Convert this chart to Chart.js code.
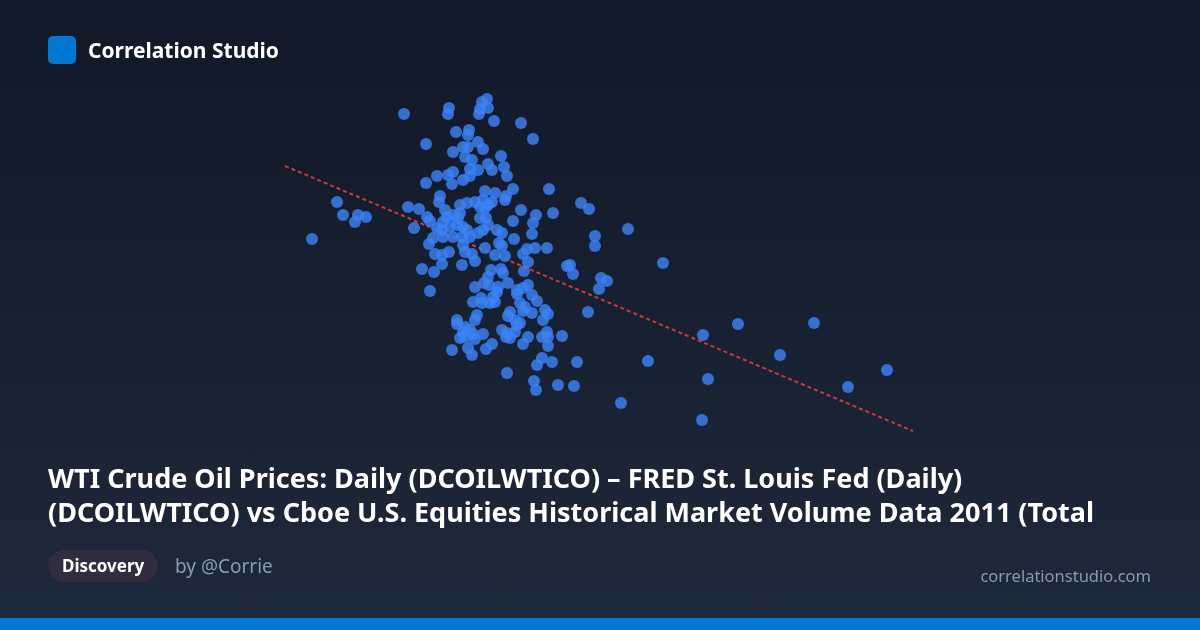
<!DOCTYPE html>
<html>
<head>
<meta charset="utf-8">
<script src="https://cdn.jsdelivr.net/npm/chart.js@4.4.1/dist/chart.umd.min.js"></script>
<style>
  html, body { margin: 0; padding: 0; }
  body {
    width: 1200px; height: 630px; overflow: hidden; position: relative;
    background: linear-gradient(180deg, #111827 0%, #1e293b 100%);
    font-family: "Noto Sans", "Open Sans", sans-serif;
  }
  #chart { position: absolute; left: 0; top: 0; }
  .brand { position: absolute; left: 48px; top: 36px; display: flex; align-items: center; }
  .logo { width: 28px; height: 28px; border-radius: 5px; background: #0078d4; }
  .brand span { margin-left: 12px; color: #fff; font-weight: 700; font-size: 21px; }
  .title { position: absolute; left: 48px; top: 461px; color: #fff; font-weight: 700; font-size: 27px; line-height: 34px; }
  .title div { white-space: nowrap; }
  .badge { position: absolute; left: 48px; top: 550px; height: 32px; padding: 0 14px; border-radius: 16px;
    background: #322d3e; color: #fff; font-weight: 700; font-size: 17px; line-height: 32px; }
  .by { position: absolute; left: 175px; top: 553px; color: #8b9ab0; font-size: 19px; line-height: 26px; }
  .site { position: absolute; right: 49px; top: 563px; color: #8b98ab; font-size: 16.5px; line-height: 26px; }
  .bar { position: absolute; left: 0; bottom: 0; width: 1200px; height: 12px; background: #0078d4; }
</style>
</head>
<body>
<canvas id="chart" width="1200" height="630"></canvas>
<div class="brand"><div class="logo"></div><span>Correlation Studio</span></div>
<div class="title">
  <div>WTI Crude Oil Prices: Daily (DCOILWTICO) – FRED St. Louis Fed (Daily)</div>
  <div>(DCOILWTICO) vs Cboe U.S. Equities Historical Market Volume Data 2011 (Total</div>
</div>
<div class="badge">Discovery</div>
<div class="by">by @Corrie</div>
<div class="site">correlationstudio.com</div>
<div class="bar"></div>
<script>
'use strict';

// values (no axes shown, so units are arbitrary)
let oilValues = [
  40.4, 44.9, 44.8, 48.2, 48.7, 48.0, 48.8, 47.9, 49.4, 52.1,
  53.3, 45.6, 46.9, 46.8, 42.6, 47.8, 48.3, 45.3, 46.3, 46.8,
  46.5, 47.2, 50.1, 48.8, 49.2, 50.4, 50.7, 47.0, 47.8, 43.7,
  44.8, 45.3, 46.3, 47.0, 42.6, 45.2, 48.5, 49.5, 51.3, 54.9,
  50.6, 50.5, 44.0, 43.9, 33.7, 34.3, 35.8, 36.6, 35.5, 31.2,
  40.8, 41.9, 41.4, 42.7, 43.0, 44.5, 44.7, 45.3, 46.0, 45.8,
  46.0, 46.7, 47.5, 48.0, 48.5, 48.3, 48.8, 49.2, 44.3, 43.7,
  44.2, 45.0, 45.7, 46.3, 46.7, 43.3, 44.3, 45.3, 46.2, 47.0,
  47.8, 48.3, 48.8, 48.0, 48.6, 49.7, 50.2, 42.9, 52.1, 51.3,
  53.6, 53.3, 55.3, 58.1, 58.9, 53.2, 51.4, 59.5, 59.5, 62.8,
  54.7, 53.5, 52.7, 52.3, 49.9, 50.2, 49.5, 50.5, 48.5, 46.3,
  43.5, 44.2, 44.9, 46.5, 47.2, 47.5, 46.2, 44.2, 42.2, 43.4,
  43.0, 52.8, 52.4, 56.7, 57.0, 57.3, 60.1, 60.7, 59.9, 66.3,
  49.1, 50.1, 50.3, 48.8, 48.4, 48.9, 50.8, 51.7, 51.7, 52.8,
  52.3, 47.5, 49.8, 49.7, 49.3, 53.2, 53.7, 47.3, 48.2, 49.0,
  49.5, 48.1, 52.0, 52.5, 52.3, 51.0, 50.8, 51.5, 51.7, 53.2,
  54.5, 54.8, 54.3, 47.7, 47.5, 45.7, 45.7, 46.5, 47.0, 46.3,
  47.3, 46.0, 46.5, 47.5, 48.3, 50.2, 50.7, 50.6, 51.0, 51.5,
  52.8, 52.3, 54.7, 54.8, 54.2, 54.8, 56.2, 45.2, 46.8, 47.2,
  48.6, 49.2, 54.2, 53.7, 55.2, 57.7, 50.7, 53.4, 53.6, 55.8,
  57.4, 58.8, 52.0, 64.8, 62.1, 70.3, 73.8, 81.4, 78.0, 70.8,
  84.8, 88.7, 70.2
];

let volumeValues = [
  38.6, 39.2, 38.6, 39.8, 40.1, 39.1, 39.2, 38.6, 37.9, 37.7,
  36.1, 36.8, 37.0, 36.5, 35.6, 35.8, 35.1, 34.8, 35.3, 35.3,
  34.3, 34.0, 34.4, 33.6, 33.0, 33.3, 32.4, 33.1, 33.0, 32.4,
  32.5, 32.8, 32.0, 32.4, 31.7, 31.6, 30.9, 30.7, 31.1, 31.1,
  30.4, 30.0, 30.4, 29.8, 29.8, 28.5, 28.5, 28.3, 27.8, 26.1,
  29.3, 29.1, 27.2, 28.3, 27.9, 29.0, 28.3, 28.5, 28.7, 28.2,
  29.5, 29.7, 29.8, 29.3, 29.2, 30.0, 29.5, 29.8, 27.8, 27.2,
  27.0, 27.3, 27.5, 27.3, 27.0, 26.2, 26.3, 26.3, 26.3, 26.3,
  26.7, 27.0, 27.5, 28.2, 28.2, 27.0, 26.7, 25.6, 29.0, 27.9,
  28.5, 27.7, 28.7, 29.7, 29.1, 26.6, 26.1, 26.4, 25.4, 27.1,
  25.2, 25.2, 25.1, 24.6, 25.7, 25.4, 24.5, 24.4, 25.2, 25.5,
  24.6, 24.5, 24.8, 24.8, 24.6, 23.9, 23.5, 23.6, 23.1, 22.8,
  20.9, 23.8, 22.9, 23.4, 23.5, 22.6, 22.2, 21.9, 21.1, 23.7,
  23.0, 23.1, 22.7, 22.3, 21.7, 21.5, 21.7, 21.0, 20.6, 21.5,
  21.2, 21.3, 21.3, 20.8, 20.3, 20.5, 19.9, 19.8, 19.7, 19.7,
  19.8, 20.2, 19.7, 19.3, 18.9, 18.8, 18.4, 18.0, 17.5, 18.7,
  19.0, 18.6, 18.0, 18.5, 18.0, 18.0, 17.6, 17.3, 17.0, 16.8,
  16.6, 16.2, 16.3, 16.1, 16.6, 17.0, 16.7, 16.3, 16.2, 16.8,
  16.3, 15.6, 16.8, 16.3, 16.3, 15.4, 16.4, 15.0, 15.2, 14.5,
  15.1, 15.6, 14.2, 13.5, 13.8, 13.8, 12.7, 11.9, 11.0, 11.5,
  11.4, 18.8, 17.7, 13.9, 9.7, 16.5, 17.6, 17.7, 14.5, 12.1,
  11.3, 13.0, 8.0
];

// dashed trend line ends
let trendX = [28.5, 91.3];
let trendY = [33.4, 6.9];

let points = [];
for (let i = 0; i < oilValues.length; i++) {
  points.push({ x: oilValues[i], y: volumeValues[i] });
}

let trendPoints = [];
for (let i = 0; i < trendX.length; i++) {
  trendPoints.push({ x: trendX[i], y: trendY[i] });
}

let ctx = document.getElementById('chart').getContext('2d');
let myChart = new Chart(ctx, {
  type: 'scatter',
  data: {
    datasets: [{
      label: 'Trend',
      type: 'line',
      data: trendPoints,
      borderColor: 'rgba(225, 60, 60, 0.9)',
      borderWidth: 2,
      borderDash: [4, 3],
      pointRadius: 0,
      fill: false,
      order: 2
    },
    {
      label: 'Days',
      data: points,
      backgroundColor: 'rgba(59, 130, 246, 0.82)',
      borderWidth: 0,
      pointRadius: 6,
      pointHoverRadius: 6,
      order: 1
    }]
  },
  options: {
    responsive: false,
    animation: false,
    events: [],
    layout: { padding: 0, autoPadding: false },
    plugins: {
      legend: { display: false },
      tooltip: { enabled: false }
    },
    scales: {
      x: { type: 'linear', min: 0, max: 120, display: false },
      y: { type: 'linear', min: -13, max: 50, display: false }
    }
  }
});
</script>
</body>
</html>
